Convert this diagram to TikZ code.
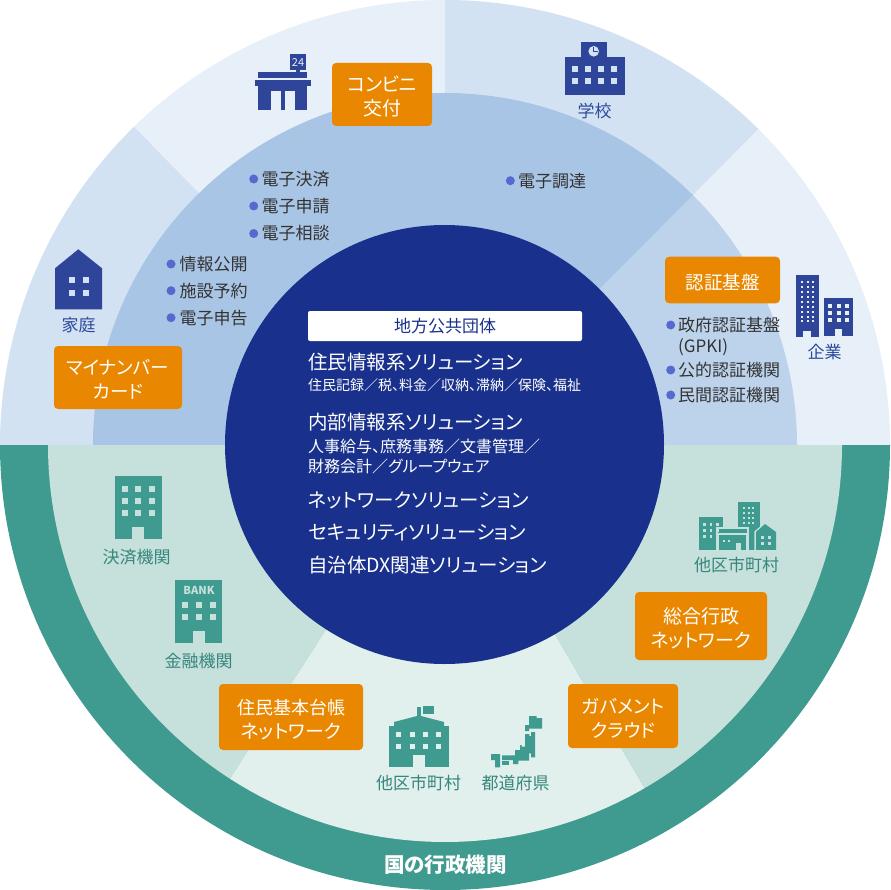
\documentclass[tikz,border=0pt]{standalone}
\usepackage{fontspec}
\setmainfont{Noto Sans CJK JP}[RawFeature=+palt]
\definecolor{ringA}{HTML}{D3E2F2}
\definecolor{ringB}{HTML}{E7EFF8}
\definecolor{midA}{HTML}{A9C5E5}
\definecolor{midB}{HTML}{BDD3EC}
\definecolor{navy}{HTML}{19318C}
\definecolor{icoblue}{HTML}{2F4599}
\definecolor{lblblue}{HTML}{2C4A9C}
\definecolor{dotblue}{HTML}{5569CF}
\definecolor{orangebox}{HTML}{E98800}
\definecolor{teal}{HTML}{3F9A8F}
\definecolor{lblteal}{HTML}{36877C}
\definecolor{grA}{HTML}{C6E0DC}
\definecolor{grB}{HTML}{E1EFED}
\definecolor{ink}{HTML}{333333}
\newcommand{\ostrut}{\rule{0pt}{19.5pt}}
\newcommand{\fsz}[1]{\fontsize{#1}{24}\selectfont}
\tikzset{
  sz/.style={font=\fontsize{#1}{#1}\selectfont,text height=#1*0.88pt,text depth=#1*0.12pt,inner sep=0pt},
  lbl/.style={sz=17,text=lblblue},
  glbl/.style={sz=17,text=lblteal},
  item/.style={sz=17,text=ink,anchor=west},
  dotmark/.style={circle,fill=dotblue,minimum size=9pt,inner sep=0pt},
  obox/.style={fill=orangebox,rounded corners=4pt,text=white,align=center,inner sep=0pt,font=\fontsize{18.5}{24}\selectfont},
  sol/.style={sz=19.5,text=white,anchor=west},
  subA/.style={sz=14,text=white,anchor=west},
  subB/.style={sz=16,text=white,anchor=west},
}
\begin{document}
\begin{tikzpicture}[x=1pt,y=-1pt]
\useasboundingbox (0,0) rectangle (890,890);
\fill[white] (0,0) rectangle (890,890);
% disc
\begin{scope}[shift={(445,445)},x=1pt,y=1pt]
  \fill[ringA] (0,0) -- (180:445pt) arc[start angle=180,end angle=134.3,radius=445pt] -- cycle;
  \fill[ringB] (0,0) -- (134.3:445pt) arc[start angle=134.3,end angle=90,radius=445pt] -- cycle;
  \fill[ringA] (0,0) -- (90:445pt) arc[start angle=90,end angle=45.2,radius=445pt] -- cycle;
  \fill[ringB] (0,0) -- (45.2:445pt) arc[start angle=45.2,end angle=0,radius=445pt] -- cycle;
  \fill[midA] (0,0) -- (180:352pt) arc[start angle=180,end angle=45.2,radius=352pt] -- cycle;
  \fill[midB] (0,0) -- (45.2:352pt) arc[start angle=45.2,end angle=0,radius=352pt] -- cycle;
  \fill[teal] (445pt,0pt) arc[start angle=0,end angle=-180,radius=445pt] -- cycle;
  \fill[grA] (0,0) -- (180:397pt) arc[start angle=180,end angle=237.2,radius=397pt] -- cycle;
  \fill[grB] (0,0) -- (237.2:397pt) arc[start angle=237.2,end angle=300.2,radius=397pt] -- cycle;
  \fill[grA] (0,0) -- (300.2:397pt) arc[start angle=300.2,end angle=360,radius=397pt] -- cycle;
\end{scope}
\fill[navy] (444.5,444.5) circle[radius=219.5pt];

% convenience store
\fill[icoblue] (290,54) rectangle (306,70);
\fill[icoblue] (296,70) rectangle (300,72);
\fill[icoblue] (258,72) rectangle (307,77.7);
\fill[icoblue] (255,80) rectangle (311,86.3);
\fill[icoblue] (258,86) rectangle (307,110);
\fill[ringB] (271,91.3) rectangle (281,110);
\fill[ringB] (285.3,91.3) rectangle (295,110);
\node[sz=11,text=ringB] (n24) at (298,62) {24};
% house
\fill[icoblue] (78.3,249.3) -- (102,268.3) -- (102,309.3) -- (55,309.3) -- (55,268.3) -- cycle;
\foreach \x in {69,83.3}\foreach \y in {277.3,290.3}
  \fill[ringA] (\x,\y) rectangle ++(5.7,5.7);
% school
\fill[icoblue] (581,42) rectangle (607,58);
\fill[icoblue] (565,57) rectangle (625,95.3);
\foreach \x in {572,585,598,611}\foreach \y in {66.3,78.3}
  \fill[ringA] (\x,\y) rectangle ++(6,5.7);
\fill[ringA] (593.7,51.3) circle[radius=5.3pt];
\draw[icoblue,line width=1pt] (593.7,47.5) -- (593.7,51.5) -- (597.5,51.5);
% company
\fill[icoblue] (796,275) rectangle (819,337.3);
\fill[ringB] (803,331) rectangle (811,337.3);
\foreach \x in {801,807,812}\foreach \y in {281,286,291,296,301,306,311,315.5,320}
  \fill[ringB] (\x,\y) rectangle ++(2,2);
\fill[icoblue] (824,298) rectangle (853,336);
\fill[ringB] (835,329) rectangle (842.3,336);
\foreach \x in {828,837,845}\foreach \y in {304,311,318}
  \fill[ringB] (\x,\y) rectangle ++(4,4);
% payment building
\fill[teal] (115,476) rectangle (162,539.3);
\foreach \x in {122,135,149}\foreach \y in {486.3,498.3,510.3}
  \fill[grA] (\x,\y) rectangle ++(6,5.7);
\fill[grA] (132,527) rectangle (144,539.3);
% bank
\fill[teal] (175,580) rectangle (222,643.3);
\node[sz=11,text=grA,font=\fontsize{11}{11}\selectfont\bfseries] (nbank) at (199,590.5) {BANK};
\foreach \x in {182,196,210}\foreach \y in {602.3,614}
  \fill[grA] (\x,\y) rectangle ++(6,5.7);
\fill[grA] (193,631) rectangle (205,643.3);
% city hall
\fill[teal] (389,726) rectangle (449,767.3);
\fill[teal] (394,726) -- (394,722) -- (417,716) -- (421,716) -- (444,722) -- (444,726) -- cycle;
\fill[teal] (417,706.7) rectangle (421,716.5);
\fill[teal] (423,706) rectangle (434,714);
\foreach \x in {396,409.7,423,436}\foreach \y in {732,744}
  \fill[grB] (\x,\y) rectangle ++(5,5);
\fill[grB] (413,755) rectangle (425,767.3);
% Japan
\begin{scope}[shift={(485,710)},x=0.3333pt,y=-0.3333pt]
  \fill[teal] (132,18) -- (155,18) -- (155,24) -- (171,24) -- (171,56) -- (132,56) -- (132,63) -- (120,63) -- (120,45) -- (132,45) -- cycle;
  \fill[teal] (120,72) -- (133,72) -- (133,78) -- (138,78) -- (138,66) -- (150,66) -- (150,142) -- (138,142) -- (138,130) -- (132,130) -- (132,152) -- (100,152) -- (100,162) -- (84,162) -- (84,150) -- (51,150) -- (51,136) -- (90,136) -- (90,120) -- (105,120) -- (105,105) -- (110,105) -- (110,110) -- (120,110) -- cycle;
  \fill[teal] (18,132) -- (45,132) -- (45,172) -- (30,172) -- (30,150) -- (18,150) -- cycle;
  \fill[teal] (51,153) -- (72,153) -- (72,165) -- (51,165) -- cycle;
\end{scope}
% town
\begin{scope}[shift={(695,498)},x=0.3333pt,y=-0.3333pt]
  \fill[teal] (129,12) rectangle (195,156);
  \fill[teal] (12,57) rectangle (84,156);
  \fill[grA] (178,156) -- (178,100) -- (210,74) -- (248,100) -- (248,156) -- cycle;
  \fill[teal] (183,156) -- (183,102) -- (210,78) -- (243,102) -- (243,156) -- cycle;
  \fill[grA] (62,88) rectangle (162,156);
  \fill[teal] (68,94) rectangle (156,106);
  \fill[teal] (73,112) rectangle (152,156);
  \fill[grA] (122,135) rectangle (138,156);
  \foreach \x in {84,100} \fill[grA] (\x,127) rectangle ++(6,6);
  \foreach \x in {144,158,172}\foreach \y in {27,42,57,72} \fill[grA] (\x,\y) rectangle ++(6,6);
  \foreach \x in {24,44,64}\foreach \y in {75,93} \fill[grA] (\x,\y) rectangle ++(8,8);
  \foreach \x in {24,44}\fill[grA] (\x,111) rectangle ++(8,8);
  \foreach \x in {198,219}\foreach \y in {114,132} \fill[grA] (\x,\y) rectangle ++(8,8);
\end{scope}

% icon labels
\node[lbl] (ltei) at (78.5,325.5) {家庭};
\node[lbl] (lsch) at (594.5,110.7) {学校};
\node[lbl] (lcom) at (824.5,352) {企業};
\node[glbl] (lpay) at (136.5,556.7) {決済機関};
\node[glbl] (lfin) at (198.5,661) {金融機関};
\node[glbl] (lmun) at (418.5,783.3) {他区市町村};
\node[glbl] (lpre) at (515.7,783.3) {都道府県};
\node[glbl] (ltow) at (736.7,565) {他区市町村};
\node[sz=20.5,text=white,font=\fontsize{20.5}{20.5}\selectfont\bfseries] (lgov) at (445.5,864.5) {国の行政機関};

% orange boxes
\node[obox,minimum width=100pt,minimum height=63pt] (bconv) at (382,94.5) {\fsz{19}\ostrut コンビニ\\\fsz{19}交付};
\node[obox,minimum width=128pt,minimum height=63pt] (bmyna) at (118,377.5) {\ostrut マイナンバー\\カード};
\node[obox,minimum width=115pt,minimum height=46.5pt] (bauth) at (722.5,280) {\ostrut 認証基盤};
\node[obox,minimum width=144pt,minimum height=66pt] (bjuki) at (291,717) {\fsz{18}\ostrut 住民基本台帳\\\fsz{19}ネットワーク};
\node[obox,minimum width=110pt,minimum height=64pt] (bgov) at (623,716) {\ostrut ガバメント\\クラウド};
\node[obox,minimum width=132pt,minimum height=68pt] (bsogo) at (701,626) {\fsz{19}\ostrut 総合行政\\\fsz{19}ネットワーク};

% bullet lists
\foreach \n/\y/\t in {a/179/電子決済,b/206/電子申請,c/233.5/電子相談}{
  \node[dotmark] (d\n) at (253.7,\y) {};
  \node[item] (t\n) at (261.5,\y) {\t};
}
\foreach \n/\y/\t in {d/264/情報公開,e/290.7/施設予約,f/317.7/電子申告}{
  \node[dotmark] (d\n) at (171,\y) {};
  \node[item] (t\n) at (179.5,\y) {\t};
}
\node[dotmark] (dg) at (510.3,180.7) {};
\node[item] (tg) at (518,180.7) {電子調達};
\node[dotmark] (dh) at (670.7,325) {};
\node[item] (th) at (678,325) {政府認証基盤};
\node[item] (thb) at (678,346) {(GPKI)};
\node[dotmark] (di) at (670.7,370) {};
\node[item] (ti) at (678,370) {公的認証機関};
\node[dotmark] (dj) at (670.7,395) {};
\node[item] (tj) at (678,395) {民間認証機関};

% centre text
\node[fill=white,rounded corners=2pt,minimum width=274pt,minimum height=30pt,inner sep=0pt,font=\fontsize{17}{17}\selectfont,text=navy] (head) at (445,326) {地方公共団体};
\node[sol] (s1) at (308,361.7) {住民情報系ソリューション};
\node[subA] (s1a) at (308,385) {住民記録／税、料金／収納、滞納／保険、福祉};
\node[sol] (s2) at (308,422) {内部情報系ソリューション};
\node[subB] (s2a) at (308,446.7) {人事給与、庶務事務／文書管理／};
\node[subB] (s2b) at (308,466.7) {財務会計／グループウェア};
\node[sol] (s3) at (308,500) {ネットワークソリューション};
\node[sol] (s4) at (308,532) {セキュリティソリューション};
\node[sol] (s5) at (308,565) {自治体DX関連ソリューション};
\end{tikzpicture}
\end{document}
